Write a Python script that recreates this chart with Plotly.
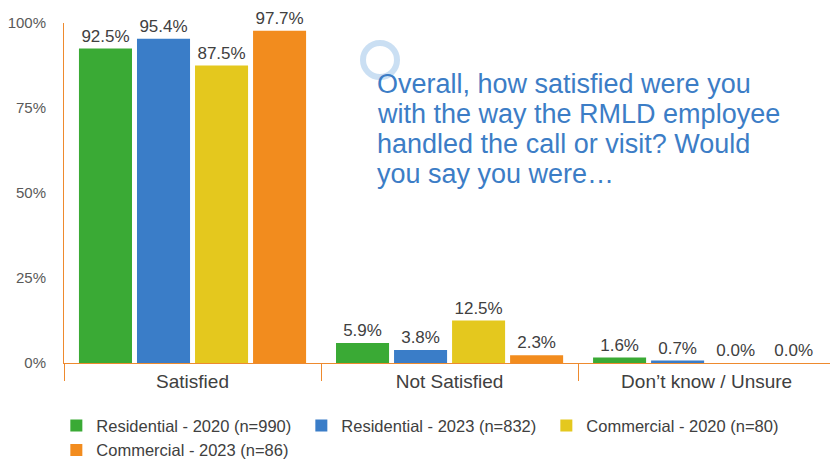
import plotly.graph_objects as go

# Survey responses (share of respondents) by customer group
categories = ["Satisfied", "Not Satisfied", "Don\u2019t know / Unsure"]
series_names = [
    "Residential - 2020 (n=990)",
    "Residential - 2023 (n=832)",
    "Commercial - 2020 (n=80)",
    "Commercial - 2023 (n=86)",
]
residential_2020 = [0.925, 0.059, 0.016]
residential_2023 = [0.954, 0.038, 0.007]
commercial_2020 = [0.875, 0.125, 0.000]
commercial_2023 = [0.977, 0.023, 0.000]
y_ticks = [0, 0.25, 0.5, 0.75, 1.0]
y_tick_labels = ["0%", "25%", "50%", "75%", "100%"]
question_lines = [
    "Overall, how satisfied were you",
    "with the way the RMLD employee",
    "handled the call or visit? Would",
    "you say you were\u2026",
]

colors = ["#3aaa35", "#3a7dc8", "#e4c81e", "#f28c1e"]
axis_color = "#ee8a2e"
text_color = "#404040"
font_family = "Arial, Liberation Sans, sans-serif"

fig = go.Figure()
for name, values, color in zip(
    series_names,
    [residential_2020, residential_2023, commercial_2020, commercial_2023],
    colors,
):
    fig.add_trace(
        go.Bar(
            name=name,
            x=categories,
            y=values,
            marker=dict(color=color, line=dict(width=0)),
            text=[f"{v * 100:.1f}%" for v in values],
            textposition="outside",
            textfont=dict(size=17, color=text_color, family=font_family),
            cliponaxis=False,
        )
    )

# Question text, one annotation per line for tight line spacing
line_y = [0.820, 0.732, 0.645, 0.556]
for line, yy in zip(question_lines, line_y):
    fig.add_annotation(
        text=line,
        xref="paper",
        yref="paper",
        x=0.4060,
        y=yy,
        xanchor="left",
        yanchor="middle",
        showarrow=False,
        font=dict(size=27, color="#3c7dc6", family=font_family),
    )

# Decorative ring near the question
fig.add_shape(
    type="circle",
    xref="paper",
    yref="paper",
    xsizemode="pixel",
    ysizemode="pixel",
    xanchor=(380 - 64) / 766,
    yanchor=(363 - 60) / 340,
    x0=-17,
    x1=17,
    y0=-17,
    y1=17,
    line=dict(color="rgba(150,192,232,0.5)", width=6),
    fillcolor="rgba(0,0,0,0)",
    layer="below",
)

fig.update_layout(
    width=830,
    height=461,
    margin=dict(l=64, r=0, t=23, b=98, autoexpand=False),
    paper_bgcolor="white",
    plot_bgcolor="white",
    barmode="group",
    bargap=0.097,
    bargroupgap=0.086,
    font=dict(family=font_family, color=text_color),
    showlegend=True,
    legend=dict(
        orientation="h",
        x=-0.01,
        y=-0.133,
        xanchor="left",
        yanchor="top",
        entrywidth=200,
        entrywidthmode="pixels",
        font=dict(size=16.5, color=text_color, family=font_family),
        tracegroupgap=0,
        itemwidth=30,
    ),
    xaxis=dict(
        range=[-0.5, 2.48],
        showline=True,
        linecolor=axis_color,
        linewidth=1,
        ticks="outside",
        tickson="boundaries",
        ticklen=17,
        tickcolor=axis_color,
        tickwidth=1,
        ticklabelstandoff=1,
        tickfont=dict(size=19, color=text_color, family=font_family),
        showgrid=False,
        zeroline=False,
        fixedrange=True,
    ),
    yaxis=dict(
        range=[0, 1.0],
        tickvals=y_ticks,
        ticktext=y_tick_labels,
        showline=True,
        linecolor=axis_color,
        linewidth=1,
        ticks="outside",
        ticklen=14,
        tickcolor="rgba(0,0,0,0)",
        tickfont=dict(size=15, color="#595959", family=font_family),
        showgrid=False,
        zeroline=False,
        fixedrange=True,
    ),
)

fig.write_html("out.html")
